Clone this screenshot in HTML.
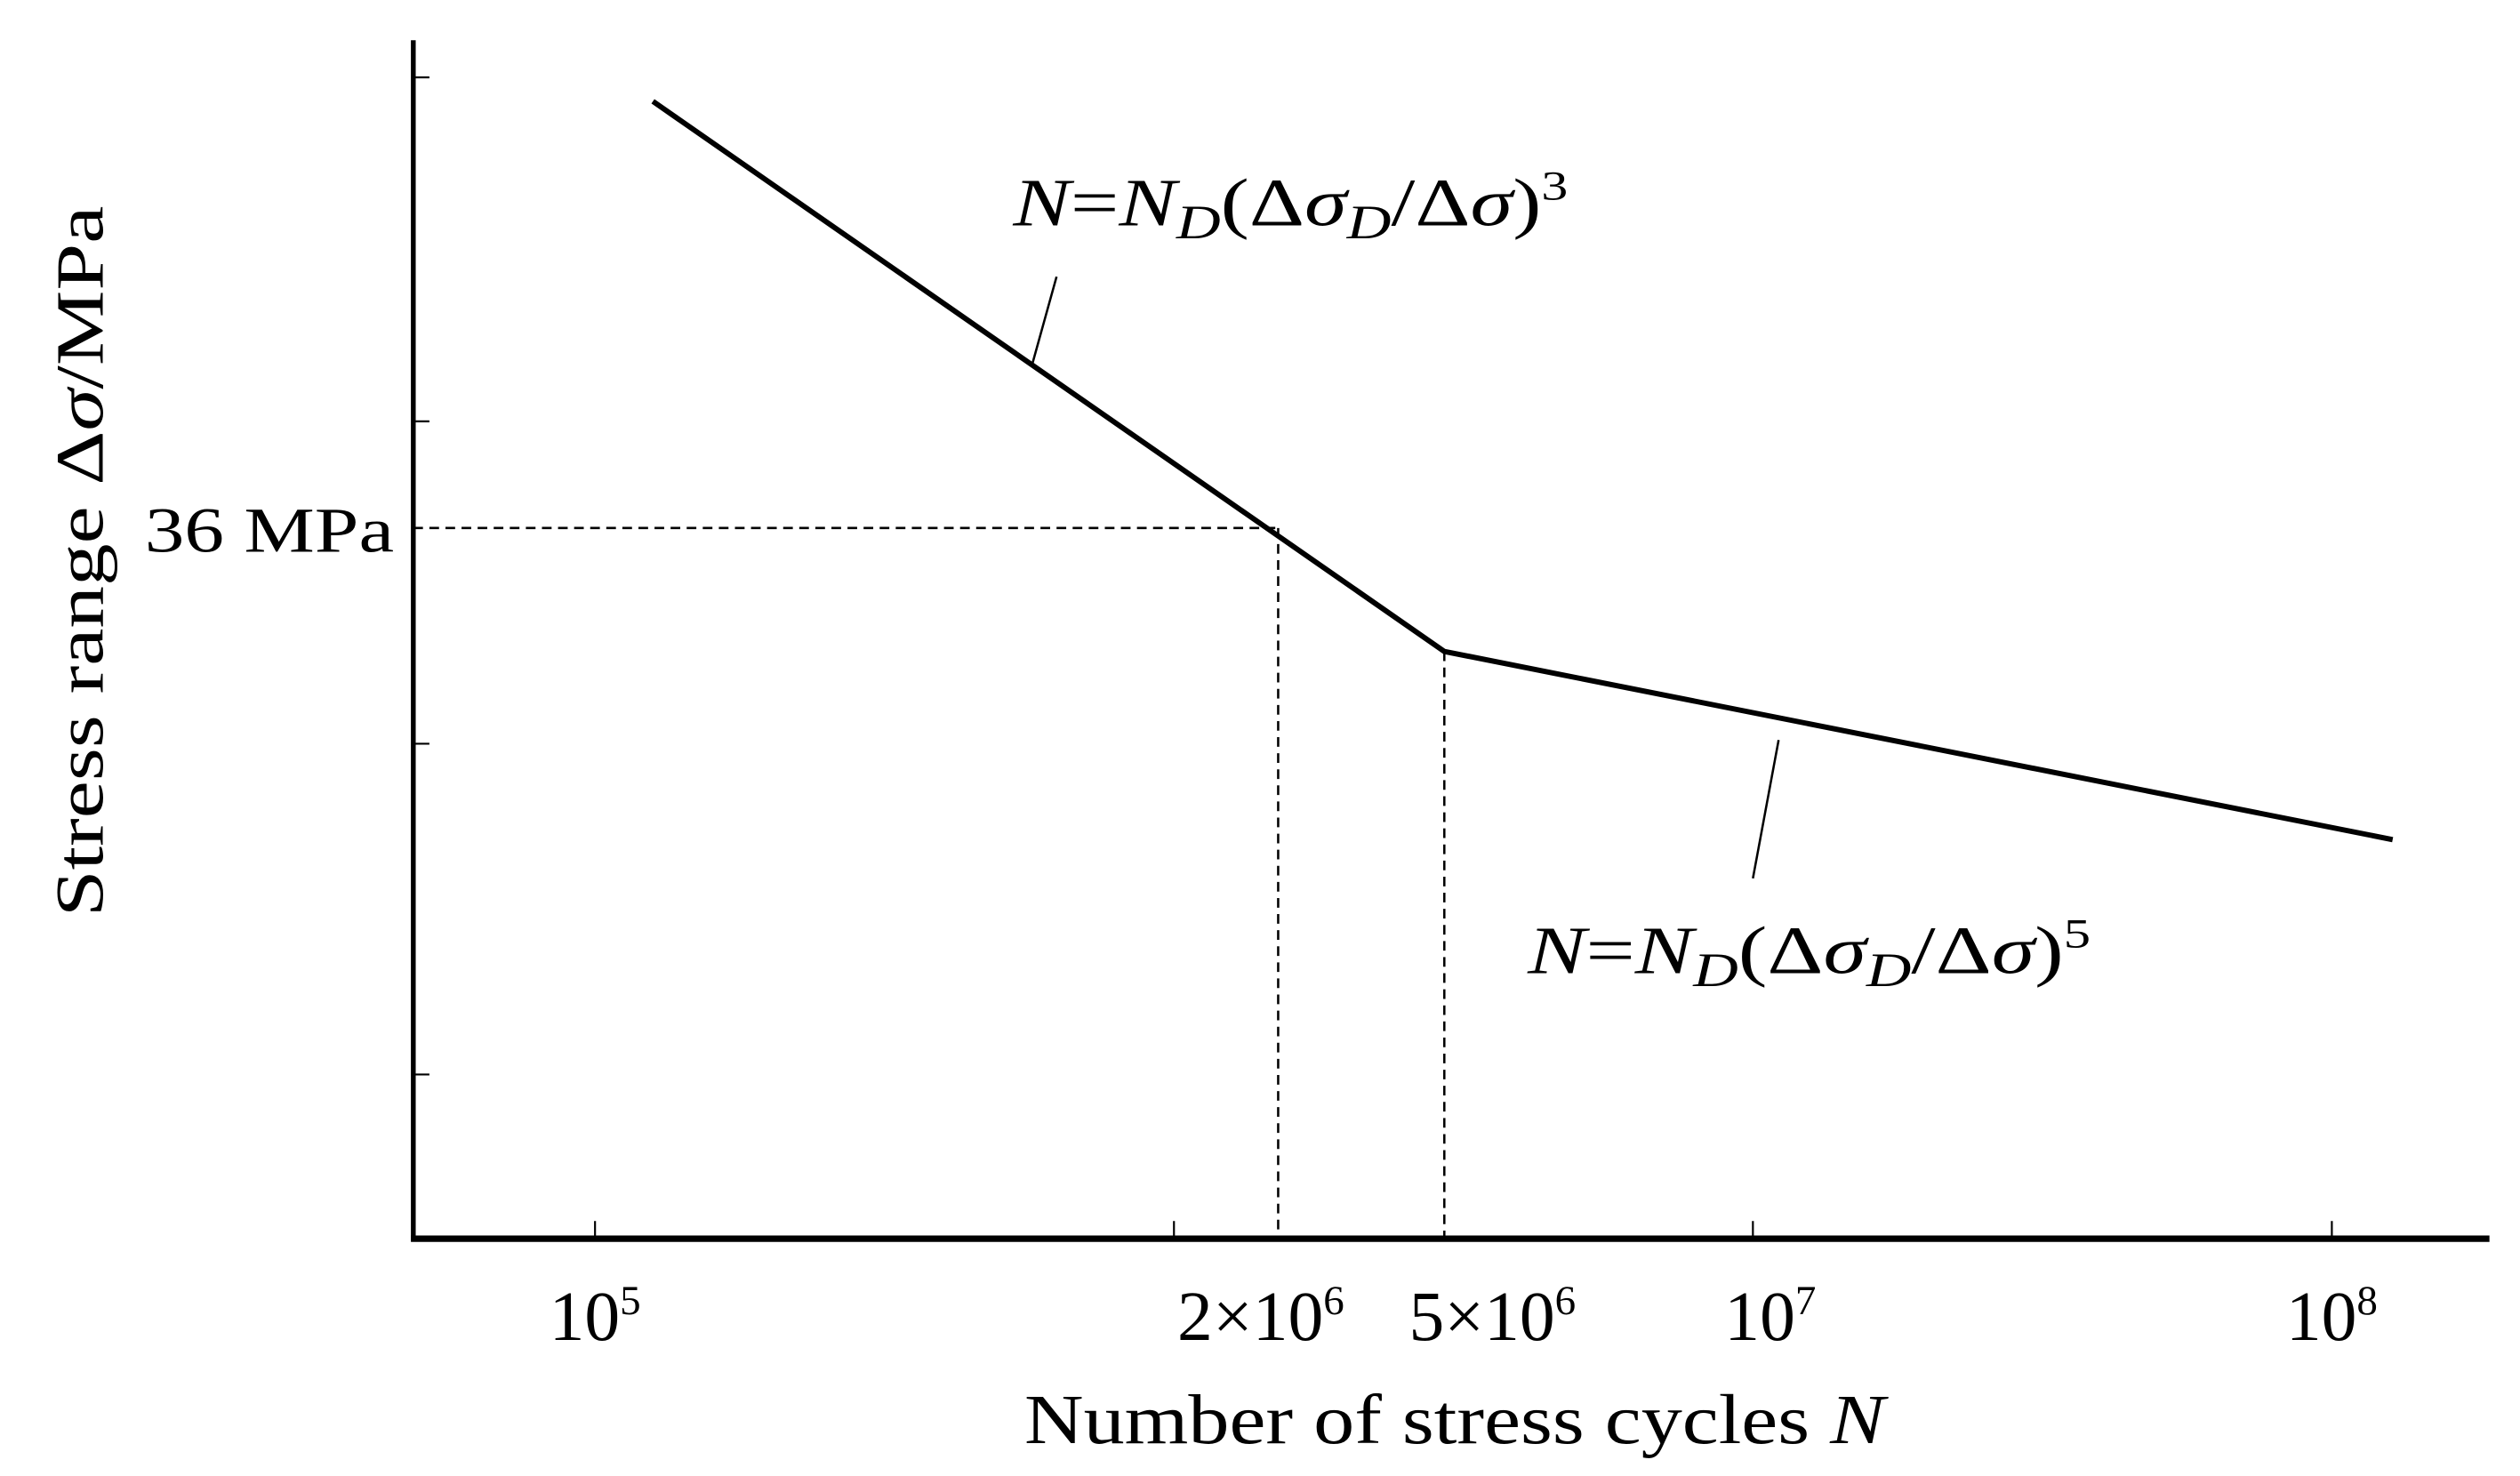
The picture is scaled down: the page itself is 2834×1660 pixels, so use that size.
<!DOCTYPE html>
<html><head><meta charset="utf-8"><style>
html,body{margin:0;padding:0;background:#fff;}
svg{display:block;}
text{font-family:"Liberation Serif",serif;fill:#000;}
</style></head><body>
<svg id="chart" width="2834" height="1660" viewBox="0 0 1567 917.5" preserveAspectRatio="none" xmlns="http://www.w3.org/2000/svg">
<g id="g"></g>
</svg>
<script>
// data (log10 N on x, arbitrary stress units on y)
const curveLogN = [5.10, 6.467, 8.105];
const curveStress = [94.9, 49.0, 33.3];
const xTickLogN = [5, 6, 7, 8];
const yTickStress = [96.9, 68.2, 41.3, 13.7];
const refLogN = [6.18, 6.467];
const refStress = [59.3, 49.0];
const xTickLabels = ["10", "2×10", "5×10", "10", "10"];
const xTickExp = ["5", "6", "6", "7", "8"];
const xLabelLogN = [5.0, 6.15, 6.55, 7.03, 8.0];

const X0 = 257, X1 = 1548, Y0 = 770, Ytop = 25;
function sx(l){ return 370 + (l - 5) * 360; }
function sy(v){ return 770 - v * 7.45; }
const NS = "http://www.w3.org/2000/svg";
const g = document.getElementById('g');
function mk(tag, attrs, parent){
  const e = document.createElementNS(NS, tag);
  for (const k in attrs) e.setAttribute(k, attrs[k]);
  (parent || g).appendChild(e); return e;
}
// axes
let a = mk('line',{x1:X0,y1:Ytop,x2:X0,y2:Y0+1,stroke:'#000','stroke-width':3});
 
a = mk('line',{x1:X0-1.5,y1:Y0,x2:X1,y2:Y0,stroke:'#000','stroke-width':4});
 
yTickStress.forEach(v=>{
  const t = mk('line',{x1:X0,y1:sy(v),x2:X0+10,y2:sy(v),stroke:'#000','stroke-width':1.2});
   
});
xTickLogN.forEach(l=>{
  const t = mk('line',{x1:sx(l),y1:Y0,x2:sx(l),y2:Y0-11,stroke:'#000','stroke-width':1.2});
   
});
// reference dashed lines
let d = mk('line',{x1:X0,y1:sy(refStress[0]),x2:sx(refLogN[0]),y2:sy(refStress[0]),stroke:'#000','stroke-width':1.4,'stroke-dasharray':'6,4'});
 
d = mk('line',{x1:sx(refLogN[0]),y1:sy(refStress[0]),x2:sx(refLogN[0]),y2:Y0,stroke:'#000','stroke-width':1.4,'stroke-dasharray':'6,4'});
 
d = mk('line',{x1:sx(refLogN[1]),y1:sy(refStress[1]),x2:sx(refLogN[1]),y2:Y0,stroke:'#000','stroke-width':1.4,'stroke-dasharray':'6,4'});
 
// curve
const pts = curveLogN.map((l,i)=>sx(l)+','+sy(curveStress[i])).join(' ');
const c = mk('polyline',{points:pts,fill:'none',stroke:'#000','stroke-width':3.3,'stroke-linejoin':'miter'});
 
// leaders
let ld = mk('line',{x1:657,y1:172,x2:642,y2:226,stroke:'#000','stroke-width':1.4});
 
ld = mk('line',{x1:1106,y1:460,x2:1090,y2:546,stroke:'#000','stroke-width':1.4});
 
// x tick labels
xLabelLogN.forEach((l,i)=>{
  const t = mk('text',{x:sx(l),y:833,'font-size':44,'text-anchor':'middle'});
   
  const s1 = document.createElementNS(NS,'tspan'); s1.textContent = xTickLabels[i]; t.appendChild(s1);
  const s2 = document.createElementNS(NS,'tspan'); s2.setAttribute('dy','-16'); s2.setAttribute('font-size','26'); s2.textContent = xTickExp[i]; t.appendChild(s2);
});
</script>
<svg style="position:absolute;left:0;top:0" width="2834" height="1660" viewBox="0 0 1567 917.5" preserveAspectRatio="none" xmlns="http://www.w3.org/2000/svg">
<text x="90" y="343" font-size="40" textLength="155" lengthAdjust="spacingAndGlyphs">36 MPa</text>
<text x="630" y="140" font-size="42" textLength="345" lengthAdjust="spacingAndGlyphs"><tspan font-style="italic">N</tspan>=<tspan font-style="italic">N</tspan><tspan font-style="italic" font-size="30" dy="8">D</tspan><tspan dy="-8">(Δ</tspan><tspan font-style="italic">σ</tspan><tspan font-style="italic" font-size="30" dy="8">D</tspan><tspan dy="-8">/Δ</tspan><tspan font-style="italic">σ</tspan>)<tspan font-size="26" dy="-16">3</tspan></text>
<text x="950" y="605" font-size="42" textLength="350" lengthAdjust="spacingAndGlyphs"><tspan font-style="italic">N</tspan>=<tspan font-style="italic">N</tspan><tspan font-style="italic" font-size="30" dy="8">D</tspan><tspan dy="-8">(Δ</tspan><tspan font-style="italic">σ</tspan><tspan font-style="italic" font-size="30" dy="8">D</tspan><tspan dy="-8">/Δ</tspan><tspan font-style="italic">σ</tspan>)<tspan font-size="26" dy="-16">5</tspan></text>
<text x="637" y="897" font-size="44" textLength="535" lengthAdjust="spacingAndGlyphs">Number of stress cycles <tspan font-style="italic">N</tspan></text>
<text transform="translate(64,570) rotate(-90)" x="0" y="0" font-size="42" textLength="442" lengthAdjust="spacingAndGlyphs">Stress range Δ<tspan font-style="italic">σ</tspan>/MPa</text>
</svg>
</body></html>
